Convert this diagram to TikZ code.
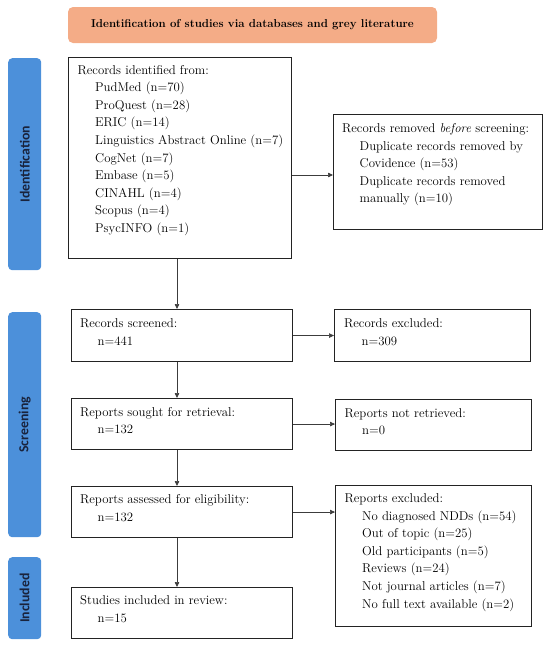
\documentclass[tikz,border=0pt]{standalone}
\usepackage{fontspec}
\newfontfamily\lblfont{Carlito}
\usetikzlibrary{arrows.meta,calc}
\definecolor{barblue}{RGB}{76,144,218}
\definecolor{salmon}{RGB}{244,172,135}
\definecolor{lblnavy}{RGB}{25,35,60}
\definecolor{boxline}{RGB}{35,35,35}
\definecolor{arrline}{RGB}{60,60,60}
\newcommand\txtblock[1]{\begin{tabular}[t]{@{}l@{}}#1\end{tabular}}
\newcommand\ind{\hspace*{17.5pt}}
\begin{document}
\begin{tikzpicture}[x=1pt,y=-1pt,
  box/.style={draw=boxline, line width=1.1pt, inner sep=0pt, anchor=north west},
  bar/.style={fill=barblue, rounded corners=4pt, inner sep=0pt, anchor=north west, minimum width=33pt},
  lbl/.style={font=\lblfont\bfseries\fontsize{13.8}{16}\selectfont, text=lblnavy, rotate=90},
  txt/.style={anchor=base west, inner sep=0pt, font=\fontsize{12.8}{17.6}\selectfont},
  arr/.style={draw=arrline, line width=0.7pt, -{Triangle[length=5pt,width=4.5pt]}}]
\useasboundingbox (0,0) rectangle (550,646);

\node[fill=salmon, rounded corners=5pt, minimum width=369pt, minimum height=36pt, inner sep=0pt,
      font=\bfseries\fontsize{11.45}{13}\selectfont] (title) at (252.5,25)
      {Identification of studies via databases and grey literature};

% phase bars
\node[bar, minimum height=212pt] (bid) at (8,58) {};
\node[lbl] (lid) at (bid.center) {Identification};
\node[bar, minimum height=225pt] (bscr) at (8,312) {};
\node[lbl] (lscr) at (bscr.center) {Screening};
\node[bar, minimum height=82pt] (binc) at (8,557) {};
\node[lbl] (linc) at (binc.center) {Included};

% boxes
\node[box, minimum width=223pt, minimum height=201pt] (id) at (68,57) {};
\node[box, minimum width=209pt, minimum height=115pt] (rem) at (333,114) {};
\node[box, minimum width=221pt, minimum height=52pt] (scr) at (71,309) {};
\node[box, minimum width=196pt, minimum height=52pt] (exc) at (334,309) {};
\node[box, minimum width=221pt, minimum height=51pt] (sou) at (71,398) {};
\node[box, minimum width=196pt, minimum height=51pt] (nre) at (335,399) {};
\node[box, minimum width=221pt, minimum height=51pt] (ass) at (71,486) {};
\node[box, minimum width=196pt, minimum height=141pt] (rex) at (335,485) {};
\node[box, minimum width=221pt, minimum height=51pt] (stu) at (71,587) {};

% texts
\node[txt] (tid) at ($(id.north west)+(9.5,17)$) {\txtblock{Records identified from:\\
\ind PudMed (n=70)\\
\ind ProQuest (n=28)\\
\ind ERIC (n=14)\\
\ind Linguistics Abstract Online (n=7)\\
\ind CogNet (n=7)\\
\ind Embase (n=5)\\
\ind CINAHL (n=4)\\
\ind Scopus (n=4)\\
\ind PsycINFO (n=1)}};
\node[txt] (trem) at ($(rem.north west)+(9,18.5)$) {\txtblock{Records removed \textit{before} screening:\\
\ind Duplicate records removed by\\
\ind Covidence (n=53)\\
\ind Duplicate records removed\\
\ind manually (n=10)}};
\node[txt] (tscr) at ($(scr.north west)+(9,18.5)$) {\txtblock{Records screened:\\ \ind n=441}};
\node[txt] (texc) at ($(exc.north west)+(10,18.5)$) {\txtblock{Records excluded:\\ \ind n=309}};
\node[txt] (tsou) at ($(sou.north west)+(9,18.2)$) {\txtblock{Reports sought for retrieval:\\ \ind n=132}};
\node[txt] (tnre) at ($(nre.north west)+(9.5,18)$) {\txtblock{Reports not retrieved:\\ \ind n=0}};
\node[txt] (tass) at ($(ass.north west)+(9,17.5)$) {\txtblock{Reports assessed for eligibility:\\ \ind n=132}};
\node[txt] (trex) at ($(rex.north west)+(9.5,17.5)$) {\txtblock{Reports excluded:\\
\ind No diagnosed NDDs (n=54)\\
\ind Out of topic (n=25)\\
\ind Old participants (n=5)\\
\ind Reviews (n=24)\\
\ind Not journal articles (n=7)\\
\ind No full text available (n=2)}};
\node[txt] (tstu) at ($(stu.north west)+(9,17.5)$) {\txtblock{Studies included in review:\\ \ind n=15}};

% connectors
\coordinate (ax) at (177,0);
\coordinate (ay) at (0,175);
\draw[arr] (id.south -| ax) -- (scr.north -| ax);
\draw[arr] (scr.south -| ax) -- (sou.north -| ax);
\draw[arr] (sou.south -| ax) -- (ass.north -| ax);
\draw[arr] (ass.south -| ax) -- (stu.north -| ax);
\draw[arr] (id.east |- ay) -- (rem.west |- ay);
\draw[arr] (scr.east) -- (scr.east -| exc.west);
\draw[arr] (sou.east) -- (sou.east -| nre.west);
\draw[arr] (ass.east) -- (ass.east -| rex.west);
\end{tikzpicture}
\end{document}
